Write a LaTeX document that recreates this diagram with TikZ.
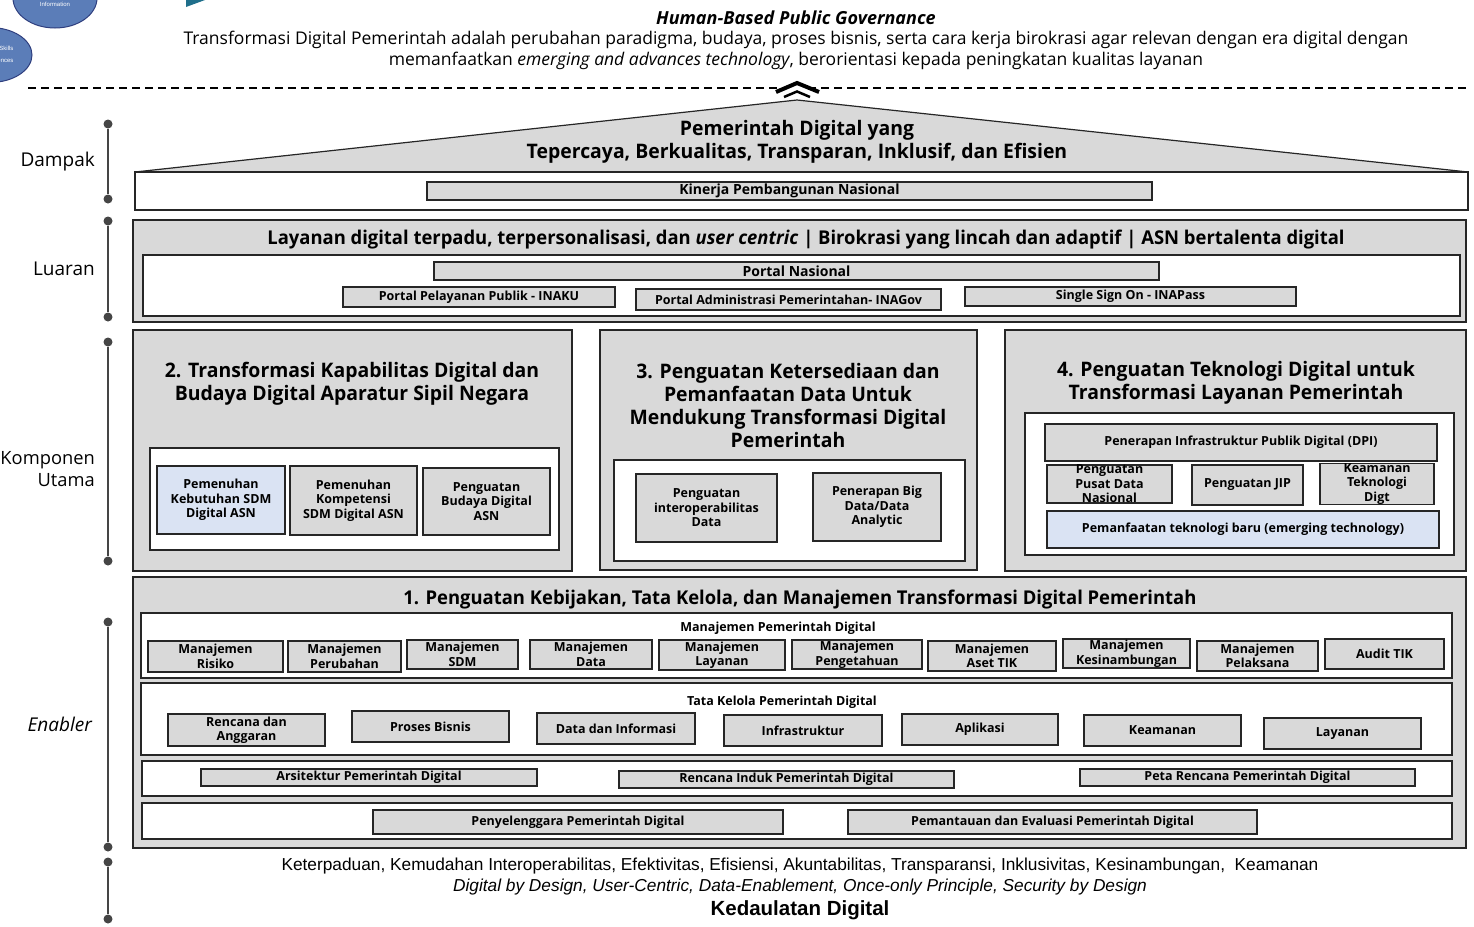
\documentclass[tikz,border=0pt]{standalone}
\usepackage{fontspec}
\setmainfont{Open Sans}
\newfontfamily\titlefont[FakeStretch=0.97]{Open Sans}
\newfontfamily\arialfont{Liberation Sans}
\usepackage{xcolor}
\definecolor{panelgray}{HTML}{D9D9D9}
\definecolor{itemblue}{HTML}{DAE3F3}
\definecolor{edgegray}{HTML}{262626}
\definecolor{axisgray}{HTML}{454545}
\definecolor{blobblue}{HTML}{5B7DB8}
\definecolor{blobedge}{HTML}{2F3F7F}
\definecolor{tealish}{HTML}{1F6F8B}
\tikzset{
    corners/.style n args={4}{minimum width={(#3-(#1))*1pt}, minimum height={(#4-(#2))*1pt}, at={({(#1+#3)/2},{(#2+#4)/2})}},
    gray-panel/.style = {draw=edgegray, fill=panelgray, line width=1.2pt, inner sep=0pt},
    white-panel/.style = {draw=edgegray, fill=white, line width=1.2pt, inner sep=0pt},
    item-box/.style = {draw=edgegray, fill=panelgray, line width=1.2pt, inner sep=0pt, align=center, font=\bfseries\fontsize{12.5}{14.5}\selectfont},
    item-blue/.style = {item-box, fill=itemblue},
    item-wide/.style = {item-box, font=\bfseries\fontsize{14}{16}\selectfont},
    panel-title/.style = {align=center, font=\titlefont\bfseries\fontsize{20}{23}\selectfont},
    row-title/.style = {font=\bfseries\fontsize{12.5}{14}\selectfont},
    axis-dot/.style = {circle, fill=axisgray, inner sep=0pt, minimum size=9pt},
    axis-line/.style = {axisgray, line width=1.6pt},
    axis-label/.style = {anchor=east, align=right, inner sep=0pt, font=\fontsize{19}{22}\selectfont},
    header-text/.style = {font=\fontsize{17.5}{20}\selectfont},
    footer-text/.style = {font=\arialfont\fontsize{17.3}{20}\selectfont},
    blob/.style = {fill=blobblue, draw=blobedge, line width=1pt},
    blob-text/.style = {text=white, font=\arialfont\fontsize{6}{7}\selectfont},
}

\begin{document}
\begin{tikzpicture}[x=1pt, y=-1pt]
\useasboundingbox (0,0) rectangle (1474,926);

% cut-off pieces at the top
\draw[blob] (55,-2) ellipse (42 and 30);
\node[blob-text] (info) at (55,4) {Information};
\draw[blob] (-10,55) ellipse (42 and 27.5);
\node[blob-text, anchor=east] (skills) at (17,48) {Skills};
\node[blob-text, anchor=east] (ences) at (17,61) {ences};
\fill[tealish] (186,0) -- (205,0) -- (186,7) -- cycle;

% header
\node[font=\bfseries\itshape\fontsize{18}{20}\selectfont] (hbpg) at (796,18) {Human-Based Public Governance};
\node[header-text] (def-a) at (796,40) {Transformasi Digital Pemerintah adalah perubahan paradigma, budaya, proses bisnis, serta cara kerja birokrasi agar relevan dengan era digital dengan};
\node[header-text] (def-b) at (796,61) {memanfaatkan \textit{emerging and advances technology}, berorientasi kepada peningkatan kualitas layanan};
\draw[dash pattern=on 8pt off 5pt, line width=1.5pt] (28,88) -- (1468,88);
\draw[line width=4pt, fill=white] (776,92) -- (797,83) -- (819,92);
\draw[line width=2.5pt] (784,97) -- (797,91.5) -- (810,97);

% left axis
\foreach \n/\t/\b in {dampak/124/199, luaran/221/317, komponen/342/561, enabler/622/847, dasar/862/919}{
    \node[axis-dot] (\n-top) at (108,\t) {};
    \node[axis-dot] (\n-bot) at (108,\b) {};
    \draw[axis-line] (\n-top) -- (\n-bot);
}
\node[axis-label] (lbl-dampak) at (95,162) {Dampak};
\node[axis-label] (lbl-luaran) at (95,269) {Luaran};
\node[axis-label, font=\fontsize{18.3}{22}\selectfont] (lbl-komponen) at (95,469) {Komponen\\Utama};
\node[axis-label, font=\itshape\fontsize{19}{22}\selectfont] (lbl-enabler) at (92,724) {Enabler};

% dampak
\filldraw[fill=panelgray, draw=edgegray, line width=1.2pt] (135,172) -- (797,100) -- (1468,172) -- cycle;
\node[panel-title] (roof-title) at (797,141.5) {Pemerintah Digital yang\\Tepercaya, Berkualitas, Transparan, Inklusif, dan Efisien};
\node[white-panel, corners={135}{172}{1468}{210}] (dampak-box) {};
\node[item-wide, corners={427}{182}{1152}{200}] (kinerja) {Kinerja Pembangunan Nasional};

% luaran
\node[gray-panel, corners={133}{220}{1466}{322}] (luaran-box) {};
\node[panel-title, font=\titlefont\bfseries\fontsize{19}{22}\selectfont] (luaran-title) at (806,240) {Layanan digital terpadu, terpersonalisasi, dan \textit{user centric} | Birokrasi yang lincah dan adaptif | ASN bertalenta digital};
\node[white-panel, corners={143}{255}{1460}{316}] (portal-box) {};
\node[item-wide, corners={434}{262}{1159}{280}] (portal-nas) {Portal Nasional};
\node[item-box, corners={343}{287}{615}{307}] (inaku) {Portal Pelayanan Publik - INAKU};
\node[item-box, corners={636}{289}{941}{310}] (inagov) {Portal Administrasi Pemerintahan-\ INAGov};
\node[item-box, corners={965}{287}{1296}{306}] (inapass) {Single Sign On - INAPass};

% komponen utama
\node[gray-panel, corners={133}{330}{572}{571}] (comp2) {};
\node[panel-title] (comp2-title) at (352,383.5) {2. Transformasi Kapabilitas Digital dan\\Budaya Digital Aparatur Sipil Negara};
\node[white-panel, corners={150}{448}{559}{550}] (comp2-inner) {};
\node[item-blue, corners={157}{466}{285}{534}] (sdm-need) {Pemenuhan\\Kebutuhan SDM\\Digital ASN};
\node[item-box, corners={290}{466}{417}{535}] (sdm-comp) {Pemenuhan\\Kompetensi\\SDM Digital ASN};
\node[item-box, corners={423}{468}{550}{535}] (culture) {Penguatan\\Budaya Digital\\ASN};

\node[gray-panel, corners={600}{330}{977}{570}] (comp3) {};
\node[panel-title] (comp3-title) at (788,405.5) {3. Penguatan Ketersediaan dan\\Pemanfaatan Data Untuk\\Mendukung Transformasi Digital\\Pemerintah};
\node[white-panel, corners={614}{460}{965}{561}] (comp3-inner) {};
\node[item-box, corners={636}{474}{777}{542}] (interop) {Penguatan\\interoperabilitas\\Data};
\node[item-box, corners={813}{473}{941}{541}] (bigdata) {Penerapan Big\\Data/Data\\Analytic};

\node[gray-panel, corners={1005}{330}{1466}{571}] (comp4) {};
\node[panel-title] (comp4-title) at (1236,382.5) {4. Penguatan Teknologi Digital untuk\\Transformasi Layanan Pemerintah};
\node[white-panel, corners={1025}{413}{1454}{555}] (comp4-inner) {};
\node[item-box, corners={1045}{424}{1437}{461}] (dpi) {Penerapan Infrastruktur Publik Digital (DPI)};
\node[item-box, corners={1047}{465}{1172}{503}] (pdn) {Penguatan\\Pusat Data\\Nasional};
\node[item-box, corners={1192}{465}{1303}{505}] (jip) {Penguatan JIP};
\node[item-box, corners={1320}{465}{1434}{503}] (keamanan-tek) {Keamanan\\Teknologi\\Digt};
\node[item-blue, corners={1047}{511}{1439}{548}] (emerging) {Pemanfaatan teknologi baru (emerging technology)};

% enabler
\node[gray-panel, corners={133}{577}{1466}{848}] (comp1) {};
\node[panel-title, font=\titlefont\bfseries\fontsize{19}{22}\selectfont] (comp1-title) at (800,600) {1. Penguatan Kebijakan, Tata Kelola, dan Manajemen Transformasi Digital Pemerintah};
\node[white-panel, corners={141}{613}{1452}{678}] (mgmt-row) {};
\node[row-title] (mgmt-title) at (778,628) {Manajemen Pemerintah Digital};
\foreach \n/\xa/\ya/\xb/\yb/\txt in {
    risiko/148/641/283/672/{Manajemen\\Risiko},
    perubahan/288/641/401/672/{Manajemen\\Perubahan},
    sdm/407/640/518/669/{Manajemen\\SDM},
    data/530/640/652/669/{Manajemen\\Data},
    layanan/659/640/785/670/{Manajemen\\Layanan},
    pengetahuan/792/640/922/669/{Manajemen\\Pengetahuan},
    aset/928/641/1056/671/{Manajemen\\Aset TIK},
    kesinambungan/1063/639/1190/668/{Manajemen\\Kesinambungan},
    pelaksana/1197/641/1318/671/{Manajemen\\Pelaksana},
    audit/1325/639/1444/669/{Audit TIK}}
    \node[item-box, corners={\xa}{\ya}{\xb}{\yb}] (m-\n) {\txt};

\node[white-panel, corners={141}{683}{1452}{755}] (gov-row) {};
\node[row-title] (gov-title) at (782,702) {Tata Kelola Pemerintah Digital};
\foreach \n/\xa/\ya/\xb/\yb/\txt in {
    anggaran/168/714/325/746/{Rencana dan\\Anggaran},
    bisnis/352/711/509/742/{Proses Bisnis},
    informasi/537/713/695/744/{Data dan Informasi},
    infra/724/715/882/746/{Infrastruktur},
    aplikasi/902/714/1058/745/{Aplikasi},
    keamanan/1084/715/1241/746/{Keamanan},
    layanan/1264/718/1421/749/{Layanan}}
    \node[item-box, corners={\xa}{\ya}{\xb}{\yb}] (g-\n) {\txt};

\node[white-panel, corners={142}{761}{1452}{796}] (plan-row) {};
\node[item-box, corners={201}{769}{537}{786}] (arsitektur) {Arsitektur Pemerintah Digital};
\node[item-box, corners={619}{771}{954}{788}] (rencana-induk) {Rencana Induk Pemerintah Digital};
\node[item-box, corners={1080}{769}{1415}{786}] (peta-rencana) {Peta Rencana Pemerintah Digital};

\node[white-panel, corners={142}{803}{1452}{839}] (exec-row) {};
\node[item-box, corners={373}{810}{783}{834}] (penyelenggara) {Penyelenggara Pemerintah Digital};
\node[item-box, corners={848}{810}{1257}{834}] (monev) {Pemantauan dan Evaluasi Pemerintah Digital};

% prinsip
\node[footer-text] (prinsip) at (800,866) {Keterpaduan, Kemudahan Interoperabilitas, Efektivitas, Efisiensi, Akuntabilitas, Transparansi, Inklusivitas, Kesinambungan,\ \ Keamanan};
\node[footer-text, font=\arialfont\itshape\fontsize{17.3}{20}\selectfont] (desain) at (800,887) {Digital by Design, User-Centric, Data-Enablement, Once-only Principle, Security by Design};
\node[footer-text, font=\arialfont\bfseries\fontsize{20.5}{22}\selectfont] (kedaulatan) at (800,910) {Kedaulatan Digital};
\end{tikzpicture}
\end{document}
